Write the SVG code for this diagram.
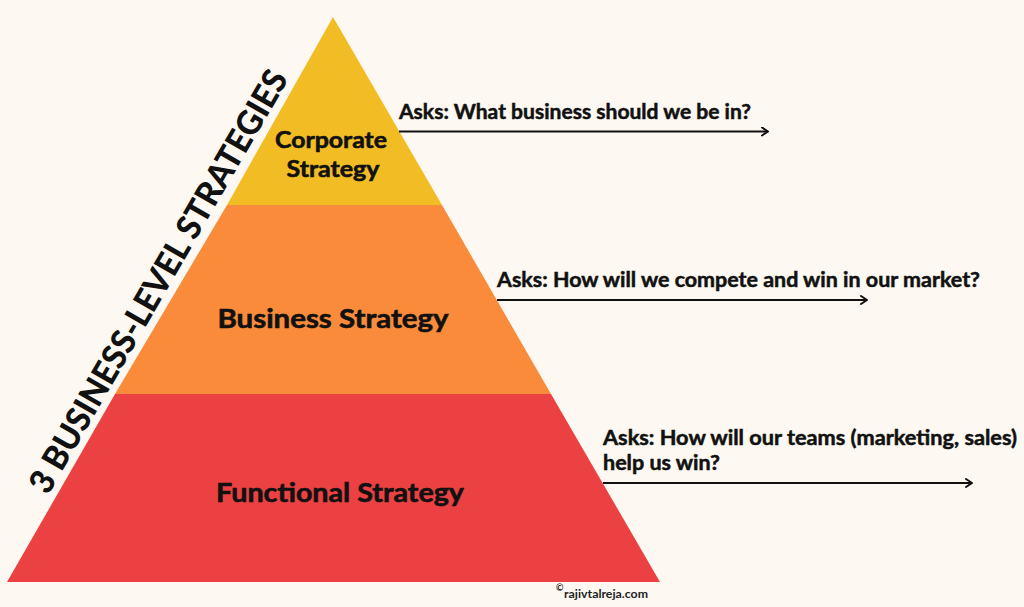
<svg xmlns="http://www.w3.org/2000/svg" width="1024" height="607" viewBox="0 0 1024 607">
  <defs>
    <marker id="arrow" viewBox="0 0 10 10" refX="9" refY="5" markerWidth="10" markerHeight="10" markerUnits="userSpaceOnUse" orient="auto">
      <path d="M3,1 L9,5 L3,9" fill="none" stroke="#111" stroke-width="2" stroke-linecap="round" stroke-linejoin="round"/>
    </marker>
    <style>
      .tier { font-family: Lato, "Liberation Sans", sans-serif; font-weight: 700; fill: #111; stroke: #111; stroke-width: 0.6; text-anchor: middle; }
      .ask { font-family: Lato, "Liberation Sans", sans-serif; font-weight: 700; fill: #111; stroke: #111; stroke-width: 0.5; font-size: 20px; }
      .side { font-family: Lato, "Liberation Sans", sans-serif; font-weight: 900; fill: #111; font-size: 34px; }
      .conn { stroke: #111; stroke-width: 2.2; fill: none; marker-end: url(#arrow); }
      .credit { font-family: Lato, "Liberation Sans", sans-serif; font-weight: 700; fill: #222; }
    </style>
  </defs>
  <rect width="1024" height="607" fill="#FDF9F2"/>

  <g id="corporate">
    <polygon points="333,17 442,205 227,205" fill="#F2BD24"/>
    <text class="tier" x="331" y="148" font-size="23" textLength="112" lengthAdjust="spacingAndGlyphs">Corporate</text>
    <text class="tier" x="333" y="177" font-size="23" textLength="93" lengthAdjust="spacingAndGlyphs">Strategy</text>
  </g>
  <g id="business">
    <polygon points="227,205 442,205 551,394 115,394" fill="#FA8B3A"/>
    <text class="tier" x="333" y="328" font-size="26" textLength="231" lengthAdjust="spacingAndGlyphs">Business Strategy</text>
  </g>
  <g id="functional">
    <polygon points="115,394 551,394 660,582 7,582" fill="#EC4142"/>
    <text class="tier" x="340" y="502" font-size="26" textLength="248" lengthAdjust="spacingAndGlyphs">Functional Strategy</text>
  </g>

  <g id="side-title">
    <text class="side" transform="translate(48,496) rotate(-60)" textLength="482" lengthAdjust="spacingAndGlyphs">3 BUSINESS-LEVEL STRATEGIES</text>
  </g>

  <g id="ask-corporate">
    <text class="ask" x="399" y="119" textLength="352" lengthAdjust="spacingAndGlyphs">Asks: What business should we be in?</text>
  </g>
  <g id="ask-business">
    <text class="ask" x="497" y="287" textLength="483" lengthAdjust="spacingAndGlyphs">Asks: How will we compete and win in our market?</text>
  </g>
  <g id="ask-functional">
    <text class="ask" x="603" y="445" textLength="414" lengthAdjust="spacingAndGlyphs">Asks: How will our teams (marketing, sales)</text>
    <text class="ask" x="603" y="470" textLength="117" lengthAdjust="spacingAndGlyphs">help us win?</text>
  </g>

  <g id="connectors">
    <line class="conn" x1="399" y1="131.5" x2="768" y2="131.5"/>
    <line class="conn" x1="497" y1="300" x2="867" y2="300"/>
    <line class="conn" x1="603" y1="483" x2="972" y2="483"/>
  </g>

  <g id="credit">
    <text class="credit" x="556" y="591" font-size="9">©</text>
    <text class="credit" x="564" y="598" font-size="12" textLength="84" lengthAdjust="spacingAndGlyphs">rajivtalreja.com</text>
  </g>
</svg>
